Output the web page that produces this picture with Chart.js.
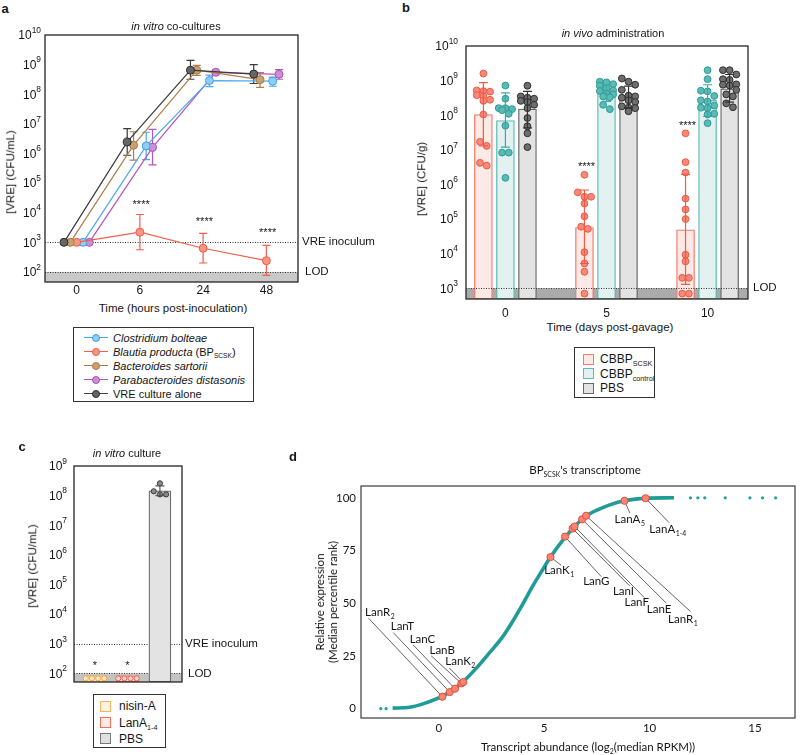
<!DOCTYPE html>
<html><head><meta charset="utf-8"><title>VRE figure</title>
<script src="https://cdn.jsdelivr.net/npm/chart.js@4.4.1/dist/chart.umd.min.js"></script>
<style>
html,body{margin:0;padding:0;background:#fff}
body{width:800px;height:755px;position:relative;overflow:hidden;font-family:"Liberation Sans",Arial,sans-serif;color:#151515}
canvas{position:absolute}
.t{position:absolute;white-space:nowrap;line-height:1;font-size:11px}
.c{transform:translate(-50%,-50%)}
.r{transform:translate(-50%,-50%) rotate(-90deg)}
.lt{transform:translate(0,-50%)}
.pl{font-weight:bold;font-size:13px}
sub{font-size:0.6em;vertical-align:-0.4em;line-height:0}
.lg{position:absolute;border:1.3px solid #333;background:#fff;box-sizing:border-box}
.row{position:absolute;left:0;right:0;height:0}
.ln{position:absolute;height:0;border-top:1.5px solid}
.dot{position:absolute;width:8px;height:8px;border-radius:50%;border:1px solid;box-sizing:border-box}
.sq{position:absolute;width:11px;height:11px;border:1.3px solid;box-sizing:border-box}
.d{font-family:Lato,"Open Sans",sans-serif}
</style></head><body>
<canvas id="ca" width="395" height="280" style="left:0;top:20px"></canvas>
<canvas id="cb" width="400" height="300" style="left:400px;top:20px"></canvas>
<canvas id="cc" width="270" height="250" style="left:0;top:450px"></canvas>
<canvas id="cd" width="500" height="285" style="left:300px;top:470px"></canvas>

<!-- panel letters -->
<div class="t c pl" style="left:5px;top:8px">a</div>
<div class="t c pl" style="left:406px;top:7px">b</div>
<div class="t c pl" style="left:22px;top:446px">c</div>
<div class="t c pl" style="left:293px;top:456px">d</div>

<!-- panel a texts -->
<div class="t c" style="left:176px;top:26px"><i>in vitro</i> co-cultures</div>
<div class="t r" style="left:11px;top:172px;font-size:11.5px">[VRE] (CFU/mL)</div>
<div class="t c" style="left:173px;top:309px;font-size:11.5px">Time (hours post-inoculation)</div>
<div class="lg" style="left:73px;top:327px;width:181px;height:75px">
  <div class="row" style="top:10px"><div class="ln" style="left:10px;width:24px;top:-0.75px;border-color:#4aa8ec"></div><div class="dot" style="left:18px;top:-4px;background:#8fcdf5;border-color:#3d9fe6"></div><div class="t lt" style="left:39px;top:0;font-size:11px"><i>Clostridium bolteae</i></div></div>
  <div class="row" style="top:24px"><div class="ln" style="left:10px;width:24px;top:-0.75px;border-color:#f25f4c"></div><div class="dot" style="left:18px;top:-4px;background:#f99787;border-color:#ef5a45"></div><div class="t lt" style="left:39px;top:0;font-size:11px"><i>Blautia producta</i> (BP<sub>SCSK</sub>)</div></div>
  <div class="row" style="top:38px"><div class="ln" style="left:10px;width:24px;top:-0.75px;border-color:#b07c48"></div><div class="dot" style="left:18px;top:-4px;background:#c9a070;border-color:#a87a48"></div><div class="t lt" style="left:39px;top:0;font-size:11px"><i>Bacteroides sartorii</i></div></div>
  <div class="row" style="top:52px"><div class="ln" style="left:10px;width:24px;top:-0.75px;border-color:#b155c0"></div><div class="dot" style="left:18px;top:-4px;background:#cc8fd6;border-color:#a650b5"></div><div class="t lt" style="left:39px;top:0;font-size:11px"><i>Parabacteroides distasonis</i></div></div>
  <div class="row" style="top:66px"><div class="ln" style="left:10px;width:24px;top:-0.75px;border-color:#444"></div><div class="dot" style="left:18px;top:-4px;background:#666;border-color:#2a2a2a"></div><div class="t lt" style="left:39px;top:0;font-size:11px">VRE culture alone</div></div>
</div>

<!-- panel b texts -->
<div class="t c" style="left:613px;top:33px"><i>in vivo</i> administration</div>
<div class="t r" style="left:422px;top:179px;font-size:11.5px">[VRE] (CFU/g)</div>
<div class="t c" style="left:610px;top:328px;font-size:11.5px">Time (days post-gavage)</div>
<div class="lg" style="left:574px;top:347px;width:81px;height:51px">
  <div class="row" style="top:11px"><div class="sq" style="left:8px;top:-5.5px;background:#fde9e5;border-color:#f37b68"></div><div class="t lt" style="left:25px;top:0;font-size:12px">CBBP<sub>SCSK</sub></div></div>
  <div class="row" style="top:25.5px"><div class="sq" style="left:8px;top:-5.5px;background:#e3f1f1;border-color:#5cbcb6"></div><div class="t lt" style="left:25px;top:0;font-size:12px">CBBP<sub>control</sub></div></div>
  <div class="row" style="top:40px"><div class="sq" style="left:8px;top:-5.5px;background:#e3e3e3;border-color:#6a6a6a"></div><div class="t lt" style="left:25px;top:0;font-size:12px">PBS</div></div>
</div>

<!-- panel c texts -->
<div class="t c" style="left:127px;top:453px"><i>in vitro</i> culture</div>
<div class="t r" style="left:33px;top:566px;font-size:11.5px">[VRE] (CFU/mL)</div>
<div class="lg" style="left:93px;top:694px;width:73px;height:54px">
  <div class="row" style="top:11px"><div class="sq" style="left:6px;top:-5.5px;background:#fdf1e2;border-color:#f7b55a"></div><div class="t lt" style="left:25px;top:0;font-size:12px">nisin-A</div></div>
  <div class="row" style="top:27.5px"><div class="sq" style="left:6px;top:-5.5px;background:#fde9e5;border-color:#f1705e"></div><div class="t lt" style="left:25px;top:0;font-size:12px">LanA<sub>1-4</sub></div></div>
  <div class="row" style="top:43.5px"><div class="sq" style="left:6px;top:-5.5px;background:#e0e0e0;border-color:#777"></div><div class="t lt" style="left:25px;top:0;font-size:12px">PBS</div></div>
</div>

<!-- panel d texts -->
<div class="t c d" style="left:585px;top:470px;font-size:11.5px">BP<sub>SCSK</sub>'s transcriptome</div>
<div class="t r d" style="left:326px;top:602px;font-size:11.5px;line-height:13px;text-align:center">Relative expression<br>(Median percentile rank)</div>
<div class="t c d" style="left:588px;top:747px;font-size:11.5px">Transcript abundance (log<sub>2</sub>(median RPKM))</div>

<script>
// ================= DATA =================
// ---- Panel a : in vitro co-cultures (CFU/mL) ----
const aTimeLabels = ['0', '6', '24', '48'];
const aYExponents = [2, 3, 4, 5, 6, 7, 8, 9, 10];
const aBolteae      = [1e3, 1.8e6, 2.9e8, 2.75e8];
const aBolteaeHi    = [null, 5.2e6, 4.4e8, 3.8e8];
const aBolteaeLo    = [null, 6.2e5, 1.8e8, 1.86e8];
const aProducta     = [1e3, 2.2e3, 6.3e2, 2.4e2];
const aProductaHi   = [null, 8.7e3, 2.0e3, 7.9e2];
const aProductaLo   = [null, 5.6e2, 2.0e2, 7.6e1];
const aSartorii     = [1e3, 1.9e6, 6.5e8, 3.1e8];
const aSartoriiHi   = [null, 5.4e6, 9.5e8, 5.4e8];
const aSartoriiLo   = [null, 6.0e5, 4.3e8, 1.7e8];
const aDistasonis   = [1e3, 1.6e6, 5.5e8, 4.7e8];
const aDistasonisHi = [null, 6.5e6, null, 6.8e8];
const aDistasonisLo = [null, 4.1e5, null, 3.2e8];
const aAlone        = [1e3, 2.45e6, 6.5e8, 4.8e8];
const aAloneHi      = [null, 6.9e6, 1.4e9, 1.0e9];
const aAloneLo      = [null, 8.7e5, 3.2e8, 2.3e8];
const aStarText     = ['', '****', '****', '****'];
const aStarLevel    = [null, 2.4e4, 6.3e3, 2.7e3];
const aInoculum = 1e3, aLOD = 1e2;

// ---- Panel b : in vivo administration (CFU/g) ----
const bDayLabels = ['0', '5', '10'];
const bYExponents = [3, 4, 5, 6, 7, 8, 9, 10];
const bScskMean = [1.05e8, 5.7e4, 4.9e4];
const bScskHi   = [8.7e8, 6.9e5, 1.95e6];
const bScskLo   = [1.3e7, 5.2e3, 1.3e3];
const bScskDay0  = [1.6e9, 5.2e8, 5.0e8, 4.8e8, 3.8e8, 3.6e8, 2.8e8, 2.6e8, 1.05e8, 1.7e7, 1.3e7, 4.2e6, 3.5e6];
const bScskDay5  = [1.9e6, 5.9e5, 4.4e5, 4.4e5, 2.8e5, 1.2e5, 6.0e4, 5.2e4, 1.1e4, 5.2e3, 3.0e3, 7.0e2];
const bScskDay10 = [3.0e7, 4.4e6, 2.2e6, 3.9e5, 1.9e5, 1.0e5, 9.3e3, 6.0e3, 2.0e3, 2.0e3, 7.0e2, 7.0e2];
const bCtrlMean = [7.0e7, 4.5e8, 2.7e8];
const bCtrlHi   = [4.4e8, 7.4e8, 7.6e8];
const bCtrlLo   = [1.2e7, 2.5e8, 9.3e7];
const bCtrlDay0  = [7.2e8, 3.0e8, 1.6e8, 1.6e8, 1.5e8, 1.4e8, 1.1e8, 5.0e7, 8.3e6, 8.3e6, 1.55e6];
const bCtrlDay5  = [9.3e8, 8.9e8, 7.9e8, 7.1e8, 6.0e8, 5.2e8, 5.0e8, 4.2e8, 4.0e8, 3.5e8, 3.3e8, 2.0e8, 1.5e8];
const bCtrlDay10 = [2.0e9, 1.1e9, 5.1e8, 4.9e8, 3.6e8, 2.7e8, 2.5e8, 1.9e8, 1.65e8, 1.6e8, 1.1e8, 1.05e8, 5.9e7];
const bPbsMean = [1.5e8, 3.5e8, 5.8e8];
const bPbsHi   = [4.9e8, 6.9e8, 1.5e9];
const bPbsLo   = [4.3e7, 1.66e8, 2.4e8];
const bPbsDay0  = [7.1e8, 3.5e8, 3.2e8, 3.0e8, 2.6e8, 2.4e8, 2.0e8, 1.6e8, 8.3e7, 4.8e7, 3.0e7, 1.2e7];
const bPbsDay5  = [1.15e9, 9.3e8, 7.6e8, 5.4e8, 3.7e8, 3.5e8, 3.2e8, 2.7e8, 2.4e8, 1.8e8, 1.65e8, 1.6e8, 1.3e8];
const bPbsDay10 = [2.0e9, 2.0e9, 1.5e9, 1.1e9, 1.05e9, 7.8e8, 7.6e8, 7.2e8, 5.4e8, 4.0e8, 3.5e8, 2.2e8, 1.7e8];
const bStarText  = ['', '****', '****'];
const bStarLevel = [null, 4.0e6, 6.0e7];
const bLOD = 1e3;

// ---- Panel c : in vitro culture (CFU/mL) ----
const cGroups = ['nisin-A', 'LanA1-4', 'PBS'];
const cYExponents = [2, 3, 4, 5, 6, 7, 8, 9];
const cMean = [83, 83, 1.45e8];
const cHi = [null, null, 2.15e8];
const cLo = [null, null, 1.0e8];
const cNisinPts = [68, 68, 68, 68];
const cLanAPts  = [68, 68, 68, 68];
const cPbsPts   = [2.6e8, 1.4e8, 1.1e8, 1.1e8];
const cStarText  = ['*', '*', ''];
const cStarLevel = [235, 235, null];
const cInoculum = 1e3, cLOD = 1e2;

// ---- Panel d : BP_SCSK transcriptome ----
const dXTicks = [0, 5, 10, 15];
const dYTicks = [0, 25, 50, 75, 100];
const dCurveX = [-2.19, -1.38, -0.75, 0, 0.52, 1.07, 1.76, 2.38, 3.01, 3.48, 3.95, 4.42, 4.89, 5.3, 5.99, 6.44, 6.99, 7.56, 8.18, 8.81, 9.44, 9.81, 11.16];
const dCurveY = [0.3, 0.7, 2.3, 5.1, 7.9, 12.0, 19.0, 26.2, 33.8, 41.0, 49.0, 57.5, 65.3, 71.9, 81.2, 86.4, 91.3, 94.4, 96.9, 98.6, 99.5, 99.8, 100];
const dTailX = [-2.75, -2.5, 11.94, 12.29, 12.62, 13.59, 14.76, 15.36, 15.98];
const dTailY = [0, 0, 100, 100, 100, 100, 100, 100, 100];
const dGeneName = ['LanR', 'LanT', 'LanC', 'LanB', 'LanK', 'LanK', 'LanG', 'LanI', 'LanF', 'LanE', 'LanR', 'LanA', 'LanA'];
const dGeneSub  = ['2', '', '', '', '2', '1', '', '', '', '', '1', '5', '1-4'];
const dGeneX = [0.17, 0.52, 0.77, 1.07, 1.16, 5.3, 5.99, 6.35, 6.44, 6.8, 6.99, 8.81, 9.81];
const dGeneY = [5.7, 7.9, 9.5, 12.0, 12.6, 71.9, 81.6, 85.4, 86.4, 89.8, 91.5, 98.6, 99.8];

// ================= LAYOUT (label placement, not data) =================
const dLabelLayout = [ // [text left x, text centre y, leader end x, leader end y]
  [-3.5, 45.6, -3.33, 42.9], [-2.28, 39.0, -2.16, 36.1], [-1.38, 33.0, -1.22, 30.3],
  [-0.44, 27.9, -0.36, 25.1], [0.31, 22.4, 0.5, 19.3], [5.0, 65.8, 5.81, 68.0],
  [6.85, 60.3, 7.71, 62.6], [8.26, 55.5, 9.06, 58.2], [8.81, 50.3, 9.75, 52.7],
  [9.87, 47.2, 10.8, 50.0], [10.88, 42.5, 11.94, 46.1], [8.34, 89.8, 9.07, 92.7],
  [9.99, 85.1, 10.93, 88.2]
];
const FONT = '"Liberation Sans", Arial, Helvetica, sans-serif';
const DFONT = 'Lato, "Open Sans", sans-serif';

// ================= HELPERS =================
function pts(vals, off) { return vals.map((v, i) => ({ x: i + off, y: v })).filter(p => p.y != null); }
function swarm(values, center, stepX, thresh, maxRow) {
  const s = values.slice().sort((a, b) => b - a);
  const out = []; let bin = [];
  const flush = () => { const n = bin.length; bin.forEach((v, k) => out.push({ x: center + (k - (n - 1) / 2) * stepX, y: v })); bin = []; };
  s.forEach(v => {
    if (bin.length && (Math.log10(bin[0]) - Math.log10(v) > thresh || bin.length >= maxRow)) flush();
    bin.push(v);
  });
  flush();
  return out;
}
function drawPow(ctx, exp, xRight, y, fs) {
  const fb = fs + 'px ' + FONT, fe = (fs * 0.7).toFixed(1) + 'px ' + FONT;
  ctx.save(); ctx.fillStyle = '#151515'; ctx.textBaseline = 'middle'; ctx.textAlign = 'left';
  ctx.font = fe; const we = ctx.measureText(String(exp)).width;
  ctx.font = fb; const wb = ctx.measureText('10').width;
  ctx.fillText('10', xRight - we - wb, y + 1);
  ctx.font = fe; ctx.fillText(String(exp), xRight - we, y - fs * 0.38);
  ctx.restore();
}
function drawErr(chart) {
  const ctx = chart.ctx, y = chart.scales.y;
  chart.data.datasets.forEach((ds, i) => {
    if (!ds.errHi) return;
    const meta = chart.getDatasetMeta(i);
    ctx.save(); ctx.strokeStyle = ds.errColor; ctx.lineWidth = 1.2; ctx.setLineDash([]);
    ds.errHi.forEach((hi, j) => {
      if (hi == null || !meta.data[j]) return;
      const px = meta.data[j].x, y1 = y.getPixelForValue(hi), y2 = y.getPixelForValue(ds.errLo[j]), w = ds.errCap / 2;
      ctx.beginPath(); ctx.moveTo(px, y1); ctx.lineTo(px, y2);
      ctx.moveTo(px - w, y1); ctx.lineTo(px + w, y1);
      ctx.moveTo(px - w, y2); ctx.lineTo(px + w, y2); ctx.stroke();
    });
    ctx.restore();
  });
}
function drawDotted(ctx, ca, y, vals) {
  ctx.save(); ctx.strokeStyle = '#333'; ctx.lineWidth = 1; ctx.setLineDash([1, 1.5]);
  vals.forEach(v => { const py = Math.round(y.getPixelForValue(v)) + 0.5; ctx.beginPath(); ctx.moveTo(ca.left, py); ctx.lineTo(ca.right, py); ctx.stroke(); });
  ctx.restore();
}
function deco(cfg) {
  return {
    id: 'deco',
    beforeDatasetsDraw(chart) {
      const { ctx, chartArea: ca } = chart, y = chart.scales.y;
      ctx.save();
      const yb = y.getPixelForValue(cfg.bandTop);
      ctx.fillStyle = cfg.bandColor; ctx.fillRect(ca.left, yb, ca.right - ca.left, ca.bottom - yb);
      ctx.restore();
      if (!cfg.dottedAfter) drawDotted(ctx, ca, y, cfg.dotted);
      if (cfg.errBefore) drawErr(chart);
    },
    afterDatasetsDraw(chart) {
      const { ctx, chartArea: ca } = chart, y = chart.scales.y;
      if (!cfg.errBefore) drawErr(chart);
      if (cfg.dottedAfter) drawDotted(ctx, ca, y, cfg.dotted);
    },
    afterDraw(chart) {
      const { ctx, chartArea: ca } = chart, y = chart.scales.y, x = chart.scales.x;
      ctx.save();
      ctx.strokeStyle = '#262626'; ctx.lineWidth = 1.3; ctx.setLineDash([]);
      ctx.strokeRect(ca.left, ca.top, ca.right - ca.left, ca.bottom - ca.top);
      cfg.exps.forEach(e => drawPow(ctx, e, ca.left - cfg.gap, y.getPixelForValue(Math.pow(10, e)), 12));
      ctx.font = '11.5px ' + FONT; ctx.fillStyle = '#151515'; ctx.textBaseline = 'middle'; ctx.textAlign = 'left';
      cfg.side.forEach(s => ctx.fillText(s.text, ca.right + s.dx, y.getPixelForValue(s.v)));
      ctx.font = '11px ' + FONT; ctx.textAlign = 'center'; ctx.textBaseline = 'alphabetic';
      cfg.stars.forEach(s => { if (s.v != null) ctx.fillText(s.text, x.getPixelForValue(s.x), y.getPixelForValue(s.v) + 6.5); });
      ctx.restore();
    }
  };
}
const noInteract = { responsive: false, animation: false, events: [], plugins: { legend: { display: false }, tooltip: { enabled: false } } };

// ================= PANEL A =================
const aSeries = [
  { vals: aAlone, hi: aAloneHi, lo: aAloneLo, off: -0.2, line: '#3a3a3a', fill: '#666', edge: '#2a2a2a' },
  { vals: aSartorii, hi: aSartoriiHi, lo: aSartoriiLo, off: -0.1, line: '#b07c48', fill: '#c9a070', edge: '#a87a48' },
  { vals: aProducta, hi: aProductaHi, lo: aProductaLo, off: 0, line: '#f25f4c', fill: '#f99787', edge: '#ef5a45' },
  { vals: aBolteae, hi: aBolteaeHi, lo: aBolteaeLo, off: 0.1, line: '#4aa8ec', fill: '#8fcdf5', edge: '#3d9fe6' },
  { vals: aDistasonis, hi: aDistasonisHi, lo: aDistasonisLo, off: 0.2, line: '#b155c0', fill: '#cc8fd6', edge: '#a650b5' }
];
new Chart(document.getElementById('ca'), {
  type: 'line',
  data: { datasets: aSeries.map(s => ({
    data: pts(s.vals, s.off), borderColor: s.line, borderWidth: 1.2, backgroundColor: s.fill,
    pointRadius: 4, pointBorderWidth: 1, pointBackgroundColor: s.fill, pointBorderColor: s.edge,
    errHi: s.hi, errLo: s.lo, errColor: s.line, errCap: 8
  })) },
  options: Object.assign({}, noInteract, {
    layout: { padding: { left: 0, top: 15, right: 97, bottom: 0 } },
    scales: {
      x: { type: 'linear', offset: false, min: -0.5, max: 3.5, grid: { display: false, drawTicks: false }, border: { display: false },
        afterBuildTicks: s => { s.ticks = aTimeLabels.map((_, i) => ({ value: i })); },
        afterFit: s => { s.height = 18; },
        ticks: { callback: v => aTimeLabels[v], color: '#151515', font: { size: 12, family: FONT }, padding: 1, maxRotation: 0, autoSkip: false } },
      y: { type: 'logarithmic', min: Math.pow(10, 1.66), max: 1e10, grid: { display: false, drawTicks: false }, border: { display: false },
        ticks: { display: false }, afterFit: s => { s.width = 45; } }
    }
  }),
  plugins: [deco({ bandTop: aLOD, bandColor: '#c9c9c9', dotted: [aInoculum, aLOD], errBefore: true, exps: aYExponents, gap: 4,
    side: [{ v: aInoculum, text: 'VRE inoculum', dx: 4 }, { v: aLOD, text: 'LOD', dx: 7 }],
    stars: aStarText.map((t, i) => ({ text: t, x: i + 0.02, v: aStarLevel[i] })) })]
});

// ================= PANEL B =================
const bOff = 0.218, bStep = 0.066, bThr = 0.19;
const bGroups = [
  { mean: bScskMean, hi: bScskHi, lo: bScskLo, days: [bScskDay0, bScskDay5, bScskDay10], off: -bOff, barFill: '#fde9e5', barEdge: '#f37b68', ptFill: '#f7897a', ptEdge: '#f05843', err: '#f05a46' },
  { mean: bCtrlMean, hi: bCtrlHi, lo: bCtrlLo, days: [bCtrlDay0, bCtrlDay5, bCtrlDay10], off: 0, barFill: '#e3f1f1', barEdge: '#5cbcb6', ptFill: '#5bbab5', ptEdge: '#2c9b95', err: '#3ea9a3' },
  { mean: bPbsMean, hi: bPbsHi, lo: bPbsLo, days: [bPbsDay0, bPbsDay5, bPbsDay10], off: bOff, barFill: '#e3e3e3', barEdge: '#6a6a6a', ptFill: '#6e6e6e', ptEdge: '#2e2e2e', err: '#333' }
];
const bDatasets = [];
bGroups.forEach(g => {
  bDatasets.push({ type: 'bar', data: pts(g.mean, g.off), backgroundColor: g.barFill, borderColor: g.barEdge, borderWidth: 1.3,
    borderSkipped: false, grouped: false, maxBarThickness: 18, barPercentage: 1, categoryPercentage: 1, order: 3,
    errHi: g.hi, errLo: g.lo, errColor: g.err, errCap: 9 });
});
bGroups.forEach(g => {
  const data = [].concat(...g.days.map((d, i) => swarm(d, i + g.off, bStep, bThr, 3)));
  bDatasets.push({ type: 'scatter', data, pointRadius: 3.4, pointBorderWidth: 1, pointBackgroundColor: g.ptFill, pointBorderColor: g.ptEdge, order: 1 });
});
new Chart(document.getElementById('cb'), {
  type: 'bar',
  data: { datasets: bDatasets },
  options: Object.assign({}, noInteract, {
    layout: { padding: { left: 0, top: 26, right: 52, bottom: 0 } },
    scales: {
      x: { type: 'linear', offset: false, min: -0.39, max: 2.4, grid: { display: false, drawTicks: false, offset: false }, border: { display: false },
        afterBuildTicks: s => { s.ticks = bDayLabels.map((_, i) => ({ value: i })); },
        afterFit: s => { s.height = 21; },
        ticks: { callback: v => bDayLabels[v], color: '#151515', font: { size: 12, family: FONT }, padding: 7, maxRotation: 0, autoSkip: false } },
      y: { type: 'logarithmic', min: Math.pow(10, 2.69), max: 1e10, grid: { display: false, drawTicks: false }, border: { display: false },
        ticks: { display: false }, afterFit: s => { s.width = 66; } }
    }
  }),
  plugins: [deco({ bandTop: bLOD, bandColor: '#ababab', dotted: [bLOD], dottedAfter: true, exps: bYExponents, gap: 8,
    side: [{ v: bLOD, text: 'LOD', dx: 5 }],
    stars: bStarText.map((t, i) => ({ text: t, x: i - bOff + 0.02, v: bStarLevel[i] })) })]
});

// ================= PANEL C =================
const cStep = 0.19, cThr = 0.17;
const cStyles = [
  { barFill: '#fdf1e2', barEdge: '#f7b55a', ptFill: '#fde6c6', ptEdge: '#f5a642', pts: cNisinPts },
  { barFill: '#fde9e5', barEdge: '#f1705e', ptFill: '#fcd6ce', ptEdge: '#f0604c', pts: cLanAPts },
  { barFill: '#e3e3e3', barEdge: '#6f6f6f', ptFill: '#8a8a8a', ptEdge: '#3a3a3a', pts: cPbsPts }
];
const cDatasets = [{
  type: 'bar', data: cMean.map((v, i) => ({ x: i, y: v })), backgroundColor: cStyles.map(s => s.barFill), borderColor: cStyles.map(s => s.barEdge),
  borderWidth: 1.3, borderSkipped: false, grouped: false, maxBarThickness: 22, barPercentage: 1, categoryPercentage: 1, order: 3,
  errHi: cHi, errLo: cLo, errColor: '#555', errCap: 9
}];
cStyles.forEach((s, i) => {
  cDatasets.push({ type: 'scatter', data: swarm(s.pts, i, cStep, cThr, 4), pointRadius: 2.6, pointBorderWidth: 1,
    pointBackgroundColor: s.ptFill, pointBorderColor: s.ptEdge, order: 1 });
});
new Chart(document.getElementById('cc'), {
  type: 'bar',
  data: { datasets: cDatasets },
  options: Object.assign({}, noInteract, {
    layout: { padding: { left: 0, top: 16, right: 88, bottom: 0 } },
    scales: {
      x: { type: 'linear', offset: false, min: -0.646, max: 2.68, grid: { display: false, drawTicks: false, offset: false }, border: { display: false },
        ticks: { display: false }, afterFit: s => { s.height = 18; } },
      y: { type: 'logarithmic', min: Math.pow(10, 1.71), max: 1e9, grid: { display: false, drawTicks: false }, border: { display: false },
        ticks: { display: false }, afterFit: s => { s.width = 74; } }
    }
  }),
  plugins: [deco({ bandTop: cLOD, bandColor: '#c4c4c4', dotted: [cInoculum, cLOD], exps: cYExponents, gap: 7,
    side: [{ v: cInoculum, text: 'VRE inoculum', dx: 3 }, { v: cLOD, text: 'LOD', dx: 6 }],
    stars: cStarText.map((t, i) => ({ text: t, x: i, v: cStarLevel[i] })) })]
});

// ================= PANEL D =================
function drawSub(ctx, main, sub, x, y, fs) {
  ctx.font = fs + 'px ' + DFONT; ctx.textAlign = 'left'; ctx.textBaseline = 'middle';
  ctx.fillText(main, x, y);
  if (sub) { const w = ctx.measureText(main).width; ctx.font = (fs * 0.6).toFixed(1) + 'px ' + DFONT; ctx.fillText(sub, x + w + 0.5, y + fs * 0.38); }
}
const dDeco = {
  id: 'dDeco',
  beforeDatasetsDraw(chart) {
    const ctx = chart.ctx, x = chart.scales.x, y = chart.scales.y;
    ctx.save(); ctx.strokeStyle = '#3c3c3c'; ctx.lineWidth = 0.8;
    dGeneX.forEach((gx, i) => {
      const L = dLabelLayout[i];
      ctx.beginPath(); ctx.moveTo(x.getPixelForValue(gx), y.getPixelForValue(dGeneY[i]));
      ctx.lineTo(x.getPixelForValue(L[2]), y.getPixelForValue(L[3])); ctx.stroke();
    });
    ctx.restore();
  },
  afterDraw(chart) {
    const { ctx, chartArea: ca } = chart, x = chart.scales.x, y = chart.scales.y;
    ctx.save();
    ctx.strokeStyle = '#3a3a3a'; ctx.lineWidth = 1.2;
    ctx.strokeRect(ca.left, ca.top, ca.right - ca.left, ca.bottom - ca.top);
    ctx.fillStyle = '#151515';
    dGeneName.forEach((n, i) => { const L = dLabelLayout[i]; drawSub(ctx, n, dGeneSub[i], x.getPixelForValue(L[0]), y.getPixelForValue(L[1]), 11.5); });
    ctx.restore();
  }
};
new Chart(document.getElementById('cd'), {
  type: 'line',
  data: { datasets: [
    { type: 'scatter', data: dGeneX.map((v, i) => ({ x: v, y: dGeneY[i] })), pointRadius: 3.6, pointBorderWidth: 1,
      pointBackgroundColor: '#f78474', pointBorderColor: '#e44f3a', order: 1 },
    { type: 'scatter', data: dTailX.map((v, i) => ({ x: v, y: dTailY[i] })), pointRadius: 1.6, pointBorderWidth: 0,
      pointBackgroundColor: '#22a09b', order: 2 },
    { type: 'line', data: dCurveX.map((v, i) => ({ x: v, y: dCurveY[i] })), borderColor: '#1f9c97', borderWidth: 3.6,
      pointRadius: 0, cubicInterpolationMode: 'monotone', fill: false, order: 3 }
  ] },
  options: Object.assign({}, noInteract, {
    layout: { padding: { left: 0, top: 16, right: 1, bottom: 0 } },
    scales: {
      x: { type: 'linear', offset: false, min: -3.69, max: 16.9, grid: { display: false, drawTicks: false }, border: { display: false },
        afterBuildTicks: s => { s.ticks = dXTicks.map(v => ({ value: v })); },
        afterFit: s => { s.height = 37; },
        ticks: { color: '#151515', font: { size: 11.5, family: DFONT }, padding: 3, maxRotation: 0, autoSkip: false } },
      y: { type: 'linear', min: -4.4, max: 105.6, grid: { display: false, drawTicks: false }, border: { display: false },
        afterBuildTicks: s => { s.ticks = dYTicks.map(v => ({ value: v })); },
        afterFit: s => { s.width = 61; },
        ticks: { color: '#151515', font: { size: 11.5, family: DFONT }, padding: 5 } }
    }
  }),
  plugins: [dDeco]
});
</script>
</body></html>
